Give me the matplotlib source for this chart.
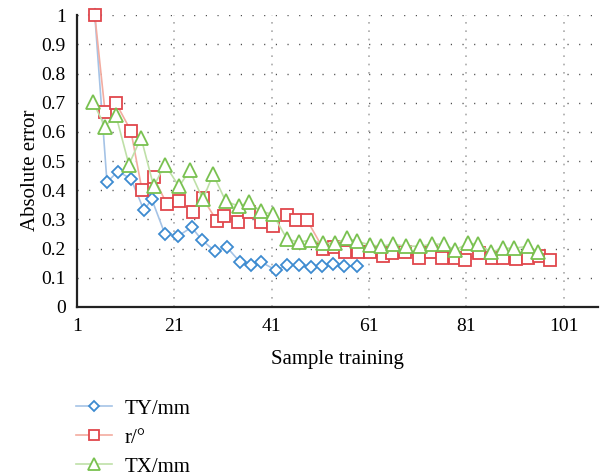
import matplotlib
matplotlib.use('Agg')
import matplotlib.pyplot as plt

plt.rcParams['font.family'] = ['Liberation Serif', 'DejaVu Serif']

# values
ty_x = [4.7, 7.2, 9.4, 12.1, 14.8, 16.4, 19.1, 21.8, 24.6, 26.7, 29.4, 31.8,
        34.5, 36.8, 38.8, 41.9, 44.2, 46.6, 49.1, 51.4, 53.6, 55.9, 58.6]
ty_y = [1.0, 0.427, 0.464, 0.44, 0.331, 0.369, 0.25, 0.243, 0.273, 0.229,
        0.191, 0.205, 0.154, 0.143, 0.154, 0.126, 0.143, 0.143, 0.137, 0.14,
        0.147, 0.14, 0.14]

r_x = [4.7, 6.8, 9.0, 12.1, 14.4, 16.8, 19.5, 22.0, 24.8, 26.9, 29.8, 31.2,
       34.1, 36.4, 38.8, 41.3, 44.2, 46.0, 48.3, 51.6, 53.8, 56.1, 58.8, 61.2,
       63.9, 65.7, 68.4, 71.3, 73.8, 76.0, 78.7, 80.8, 83.6, 86.3, 88.6, 91.2,
       93.7, 96.0, 98.2]
r_y = [1.0, 0.669, 0.70, 0.604, 0.40, 0.444, 0.352, 0.362, 0.324, 0.372,
       0.294, 0.311, 0.29, 0.324, 0.29, 0.276, 0.314, 0.297, 0.297, 0.20,
       0.205, 0.188, 0.188, 0.188, 0.174, 0.184, 0.188, 0.167, 0.188, 0.167,
       0.167, 0.16, 0.184, 0.167, 0.167, 0.164, 0.167, 0.174, 0.16]

tx_x = [4.3, 6.8, 9.0, 11.7, 14.2, 16.8, 19.1, 22.0, 24.2, 26.9, 29.0, 31.6,
        34.3, 36.4, 38.8, 41.3, 44.2, 46.6, 49.1, 51.6, 54.0, 56.5, 58.6, 61.2,
        63.5, 66.0, 68.6, 71.5, 74.0, 76.4, 78.7, 81.4, 83.4, 86.1, 88.6, 90.8,
        93.7, 95.8]
tx_y = [0.703, 0.618, 0.659, 0.488, 0.58, 0.413, 0.488, 0.413, 0.468, 0.369,
        0.454, 0.362, 0.345, 0.358, 0.328, 0.317, 0.232, 0.222, 0.229, 0.218,
        0.218, 0.235, 0.225, 0.212, 0.208, 0.215, 0.208, 0.208, 0.215, 0.215,
        0.195, 0.218, 0.215, 0.188, 0.201, 0.201, 0.208, 0.188]

x_ticks = [1, 21, 41, 61, 81, 101]
y_ticks = [0, 0.1, 0.2, 0.3, 0.4, 0.5, 0.6, 0.7, 0.8, 0.9, 1]
y_labels = ['0', '0.1', '0.2', '0.3', '0.4', '0.5', '0.6', '0.7', '0.8', '0.9', '1']

fig = plt.figure(figsize=(6, 4.75), dpi=100)
ax = fig.add_axes([0.128, 0.354, 0.869, 0.614])

# grid: dark dotted horizontals, light dotted verticals
for yv in y_ticks[1:]:
    ax.axhline(yv, color='#444444', lw=1.0, ls=(0, (0.8, 7.6)), zorder=0)
for xv in x_ticks[1:]:
    ax.axvline(xv, color='#aaaaaa', lw=1.2, ls=(0, (1, 4)), zorder=0)

ax.plot(ty_x, ty_y, color='#a5c3e6', lw=1.2, marker='D', ms=6.3,
        mfc='white', mec='#3d8bd0', mew=1.3, label='TY/mm', clip_on=False)
ax.plot(r_x, r_y, color='#f3aca0', lw=1.2, marker='s', ms=9,
        mfc='white', mec='#e0474c', mew=1.3, label='r/°', clip_on=False)
ax.plot(tx_x, tx_y, color='#bfe0a8', lw=1.2, marker='^', ms=10,
        mfc='white', mec='#79c150', mew=1.3, label='TX/mm', clip_on=False)

ax.set_xlim(1, 108.1)
ax.set_ylim(0, 1)
ax.set_xticks(x_ticks)
ax.set_yticks(y_ticks)
ax.set_yticklabels(y_labels)
ax.tick_params(length=0, labelsize=14)
ax.tick_params(axis='x', pad=8)
ax.tick_params(axis='y', pad=8)

for s in ['top', 'right']:
    ax.spines[s].set_visible(False)
for s in ['left', 'bottom']:
    ax.spines[s].set_linewidth(1.6)
    ax.spines[s].set_color('#222222')

ax.set_xlabel('Sample training', fontsize=15)
ax.set_ylabel('Absolute error', fontsize=15)
ax.xaxis.set_label_coords(0.5, -0.148)
ax.yaxis.set_label_coords(-0.071, 0.467)

fig.legend(loc='upper left', bbox_to_anchor=(0.127, 0.16), frameon=False,
           fontsize=15, handlelength=1.73, handletextpad=0.58,
           labelspacing=0.45, borderpad=0, borderaxespad=0, markerscale=0.8)

fig.savefig('out.png', dpi=100)
